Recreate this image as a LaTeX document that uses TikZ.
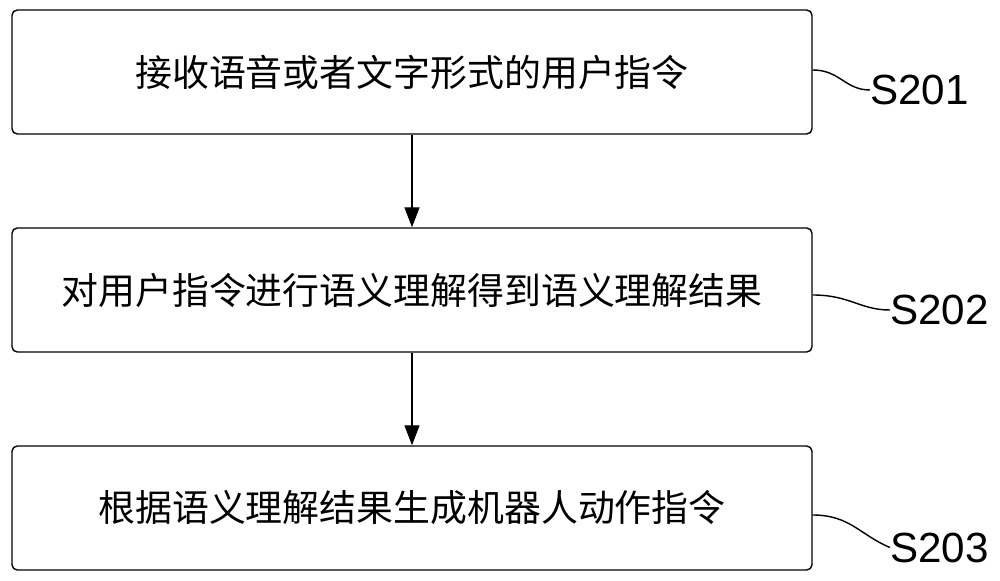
\documentclass[tikz,border=0pt]{standalone}
\usepackage{fontspec}
\setmainfont{Liberation Sans}
\newfontfamily\cjk{Noto Sans CJK SC}
\usetikzlibrary{arrows.meta,positioning}
\tikzset{
  stepbox/.style={draw, thick, rounded corners=3pt, minimum width=16cm, minimum height=2.48cm, font=\cjk\fontsize{21}{24}\selectfont},
  flow/.style={thick, -{Triangle[length=4mm,width=3mm]}},
  tag/.style={font=\fontsize{24}{28}\selectfont, anchor=west, inner sep=0pt}
}
\begin{document}
\begin{tikzpicture}
  \useasboundingbox (0,0) rectangle (20,11.6);
  \node[stepbox] (s1) at (8.24,10.16) {接收语音或者文字形式的用户指令};
  \node[stepbox] (s2) at (8.24,5.8) {对用户指令进行语义理解得到语义理解结果};
  \node[stepbox] (s3) at (8.24,1.44) {根据语义理解结果生成机器人动作指令};
  \draw[flow] (s1) -- (s2);
  \draw[flow] (s2) -- (s3);
  % step labels
  \node[tag] (t1) at (17.4,9.8) {S201};
  \node[tag] (t2) at (17.8,5.4) {S202};
  \node[tag] (t3) at (17.8,0.65) {S203};
  \draw[thick] (s1.east |- 0,10.2) .. controls (16.8,10.2) and (16.9,9.8) .. (t1.west);
  \draw[thick] (s2.east |- 0,5.7) .. controls (17.0,5.7) and (17.2,5.4) .. (t2.west);
  \draw[thick] (s3.east |- 0,1.3) .. controls (17.0,1.3) and (17.2,0.9) .. (t3.west);
\end{tikzpicture}
\end{document}
